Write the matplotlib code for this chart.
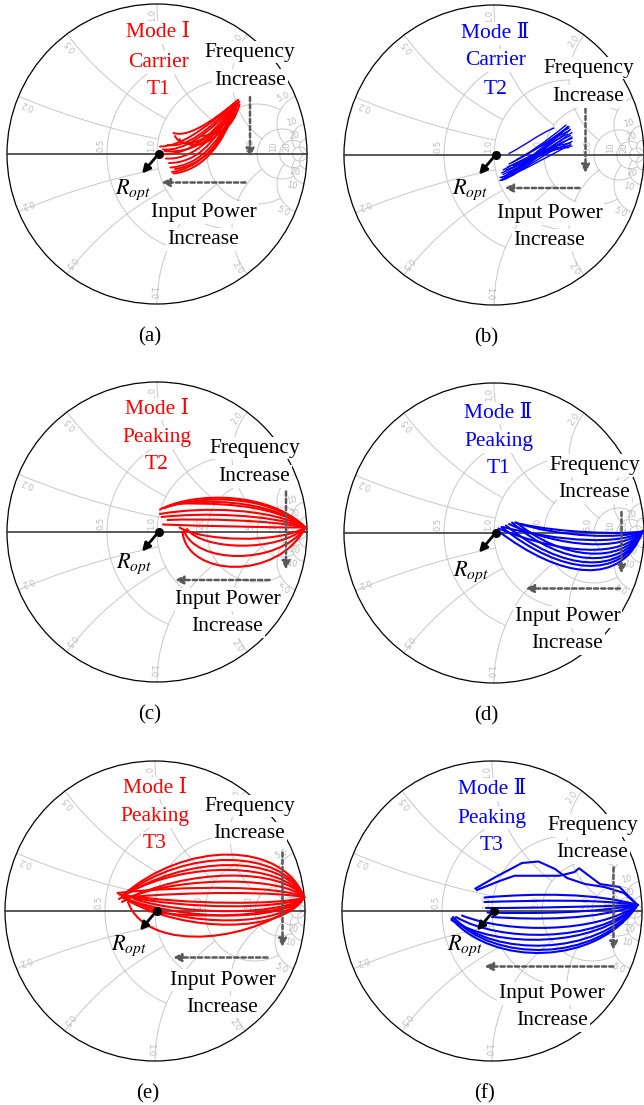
import numpy as np
import matplotlib
matplotlib.use("Agg")
import matplotlib.pyplot as plt
from matplotlib.path import Path
from matplotlib.patches import PathPatch, Circle

plt.rcParams["mathtext.fontset"] = "stix"
SERIF = ["Liberation Serif", "DejaVu Serif", "Noto Sans CJK SC"]

# ---------------- data: load trajectories as reflection coefficients ----------------
# each curve: cubic Bezier control points (start, c1, c2, end)
carrier_t1 = [
    [(0.02, 0.05), (0.15, 0.05), (0.30, 0.15), (0.54, 0.36)],
    [(0.04, 0.03), (0.18, 0.02), (0.33, 0.12), (0.53, 0.34)],
    [(0.03, 0.00), (0.20, -0.01), (0.35, 0.10), (0.52, 0.33)],
    [(0.06, -0.03), (0.22, -0.04), (0.37, 0.08), (0.51, 0.31)],
    [(0.08, -0.06), (0.24, -0.06), (0.38, 0.05), (0.50, 0.30)],
    [(0.09, -0.09), (0.25, -0.08), (0.40, 0.04), (0.50, 0.28)],
    [(0.10, -0.12), (0.25, -0.10), (0.40, 0.02), (0.49, 0.25)],
    [(0.12, -0.10), (0.28, -0.08), (0.42, 0.05), (0.47, 0.20)],
    [(0.11, -0.13), (0.30, -0.11), (0.44, 0.06), (0.52, 0.30)],
    [(0.11, 0.14), (0.20, 0.11), (0.35, 0.20), (0.54, 0.36)],
    [(0.12, 0.12), (0.16, 0.03), (0.35, 0.05), (0.54, 0.34)],
    [(0.15, 0.10), (0.18, 0.03), (0.38, 0.08), (0.53, 0.30)],
    [(0.20, 0.08), (0.22, 0.03), (0.40, 0.06), (0.52, 0.27)],
    [(0.05, 0.02), (0.25, 0.00), (0.42, 0.12), (0.55, 0.35)],
    [(0.07, 0.06), (0.20, 0.04), (0.34, 0.16), (0.51, 0.33)],
    [(0.30, 0.12), (0.40, 0.13), (0.50, 0.15), (0.55, 0.33)],
]
carrier_t2 = [
    [(0.04, -0.17), (0.16, -0.10), (0.34, 0.08), (0.50, 0.19)],
    [(0.05, -0.15), (0.18, -0.09), (0.36, 0.06), (0.51, 0.17)],
    [(0.06, -0.13), (0.20, -0.07), (0.37, 0.05), (0.52, 0.15)],
    [(0.07, -0.11), (0.21, -0.05), (0.38, 0.03), (0.52, 0.12)],
    [(0.08, -0.10), (0.22, -0.04), (0.39, 0.02), (0.52, 0.09)],
    [(0.06, -0.16), (0.20, -0.10), (0.38, 0.00), (0.51, 0.07)],
    [(0.09, -0.08), (0.22, -0.02), (0.38, 0.04), (0.50, 0.05)],
    [(0.10, -0.06), (0.22, 0.00), (0.36, 0.10), (0.48, 0.20)],
    [(0.12, -0.05), (0.24, 0.01), (0.36, 0.09), (0.47, 0.17)],
    [(0.05, -0.12), (0.20, -0.06), (0.35, 0.07), (0.49, 0.14)],
    [(0.10, 0.01), (0.20, 0.06), (0.30, 0.14), (0.40, 0.18)],
    [(0.08, -0.14), (0.22, -0.07), (0.33, 0.02), (0.45, 0.10)],
    [(0.04, -0.15), (0.18, -0.12), (0.30, -0.02), (0.42, 0.05)],
    [(0.15, -0.03), (0.28, 0.03), (0.40, 0.12), (0.50, 0.16)],
    [(0.05, -0.17), (0.20, -0.12), (0.32, 0.04), (0.51, 0.13)],
    [(0.07, -0.16), (0.24, -0.08), (0.35, 0.10), (0.50, 0.18)],
    [(0.09, -0.12), (0.25, -0.06), (0.40, 0.08), (0.52, 0.11)],
    [(0.06, -0.10), (0.19, -0.03), (0.33, 0.05), (0.51, 0.08)],
    [(0.11, -0.09), (0.26, -0.03), (0.41, 0.10), (0.49, 0.19)],
    [(0.13, -0.07), (0.27, -0.01), (0.39, 0.06), (0.52, 0.06)],
]
peaking_t2 = [
    [(0.02, 0.15), (0.25, 0.27), (0.75, 0.27), (0.99, 0.03)],
    [(0.05, 0.16), (0.30, 0.25), (0.75, 0.25), (0.99, 0.03)],
    [(0.10, 0.18), (0.30, 0.22), (0.75, 0.22), (0.99, 0.03)],
    [(0.13, 0.19), (0.35, 0.19), (0.75, 0.20), (0.99, 0.03)],
    [(0.02, 0.12), (0.30, 0.17), (0.75, 0.16), (0.99, 0.03)],
    [(0.03, 0.10), (0.30, 0.13), (0.75, 0.12), (0.99, 0.03)],
    [(0.07, 0.08), (0.30, 0.09), (0.75, 0.08), (0.99, 0.03)],
    [(0.04, 0.05), (0.30, 0.04), (0.75, 0.03), (0.99, 0.03)],
    [(0.15, 0.03), (0.30, -0.06), (0.80, -0.08), (0.99, 0.03)],
    [(0.20, 0.02), (0.30, -0.12), (0.80, -0.14), (0.99, 0.03)],
    [(0.18, 0.01), (0.25, -0.21), (0.80, -0.23), (0.99, 0.03)],
    [(0.17, 0.00), (0.20, -0.30), (0.80, -0.33), (0.99, 0.03)],
]
peaking_t1 = [
    [(0.02, 0.02), (0.45, -0.31), (0.85, -0.36), (0.99, 0.01)],
    [(0.05, 0.04), (0.45, -0.28), (0.85, -0.32), (0.99, 0.01)],
    [(0.08, 0.05), (0.45, -0.25), (0.85, -0.29), (0.99, 0.01)],
    [(0.12, 0.07), (0.45, -0.22), (0.85, -0.25), (0.99, 0.01)],
    [(0.15, 0.07), (0.45, -0.18), (0.85, -0.21), (0.99, 0.01)],
    [(0.03, 0.03), (0.45, -0.14), (0.85, -0.17), (0.99, 0.01)],
    [(0.10, 0.06), (0.45, -0.10), (0.85, -0.12), (0.99, 0.01)],
    [(0.06, 0.04), (0.45, -0.06), (0.85, -0.08), (0.99, 0.01)],
    [(0.14, 0.07), (0.45, -0.03), (0.85, -0.04), (0.99, 0.01)],
    [(0.18, 0.06), (0.45, 0.00), (0.85, -0.01), (0.99, 0.01)],
]
peaking_t3_m1 = [
    [(-0.22, 0.10), (0.20, 0.47), (0.85, 0.47), (0.995, 0.09)],
    [(-0.20, 0.11), (0.20, 0.42), (0.85, 0.42), (0.995, 0.09)],
    [(-0.24, 0.08), (0.20, 0.38), (0.85, 0.38), (0.995, 0.09)],
    [(-0.18, 0.12), (0.20, 0.33), (0.85, 0.33), (0.995, 0.09)],
    [(-0.22, 0.06), (0.20, 0.29), (0.85, 0.29), (0.995, 0.09)],
    [(-0.15, 0.10), (0.20, 0.23), (0.85, 0.23), (0.995, 0.09)],
    [(-0.25, 0.12), (0.20, 0.17), (0.85, 0.17), (0.995, 0.09)],
    [(-0.20, 0.09), (0.20, 0.13), (0.85, 0.13), (0.995, 0.09)],
    [(-0.18, 0.06), (-0.05, -0.30), (0.70, -0.20), (0.995, 0.09)],
    [(-0.20, 0.08), (0.20, -0.15), (0.85, -0.15), (0.995, 0.09)],
    [(-0.16, 0.07), (0.20, -0.11), (0.85, -0.11), (0.995, 0.09)],
    [(-0.22, 0.09), (0.20, -0.07), (0.85, -0.07), (0.995, 0.09)],
    [(-0.14, 0.08), (0.20, -0.03), (0.85, -0.03), (0.995, 0.09)],
    [(-0.20, 0.10), (0.20, 0.01), (0.85, 0.01), (0.995, 0.09)],
    [(-0.24, 0.11), (0.20, 0.04), (0.85, 0.04), (0.995, 0.09)],
    [(-0.05, 0.00), (0.25, -0.05), (0.85, -0.05), (0.995, 0.09)],
]
peaking_t3_m2 = [
    [(-0.05, 0.09), (0.30, 0.12), (0.70, 0.12), (0.97, 0.04)],
    [(-0.05, 0.06), (0.30, 0.07), (0.70, 0.08), (0.97, 0.04)],
    [(-0.04, 0.02), (0.30, 0.02), (0.70, 0.03), (0.97, 0.04)],
    [(-0.03, -0.01), (0.30, -0.02), (0.70, -0.01), (0.97, 0.04)],
    [(0.00, -0.04), (0.30, -0.06), (0.70, -0.06), (0.97, 0.04)],
    [(-0.27, -0.05), (0.00, -0.37), (0.70, -0.37), (0.97, 0.04)],
    [(-0.26, -0.04), (0.00, -0.345), (0.70, -0.345), (0.97, 0.04)],
    [(-0.25, -0.05), (0.00, -0.305), (0.70, -0.305), (0.97, 0.04)],
    [(-0.27, -0.06), (0.02, -0.25), (0.70, -0.25), (0.97, 0.04)],
    [(-0.24, -0.04), (0.05, -0.21), (0.70, -0.21), (0.97, 0.04)],
    [(-0.20, -0.03), (0.10, -0.15), (0.70, -0.15), (0.97, 0.04)],
]
# two jagged traces in (f), plotted as polylines
peaking_t3_m2_jagged = [
    [(-0.11, 0.15), (0.03, 0.23), (0.20, 0.32), (0.31, 0.33), (0.42, 0.28),
     (0.50, 0.22), (0.62, 0.18), (0.75, 0.16), (0.88, 0.12), (0.97, 0.04)],
    [(-0.10, 0.14), (0.05, 0.20), (0.15, 0.235), (0.30, 0.235), (0.45, 0.235),
     (0.55, 0.26), (0.58, 0.285), (0.64, 0.24), (0.72, 0.18), (0.85, 0.16), (0.97, 0.04)],
]

panel_letters = ["(a)", "(b)", "(c)", "(d)", "(e)", "(f)"]
mode_lines = [["Mode Ⅰ", "Carrier", "T1"], ["Mode Ⅱ", "Carrier", "T2"],
              ["Mode Ⅰ", "Peaking", "T2"], ["Mode Ⅱ", "Peaking", "T1"],
              ["Mode Ⅰ", "Peaking", "T3"], ["Mode Ⅱ", "Peaking", "T3"]]
RED, BLUE = "#ff0000", "#0000ff"
panel_colors = [RED, BLUE, RED, BLUE, RED, BLUE]
panel_curves = [carrier_t1, carrier_t2, peaking_t2, peaking_t1, peaking_t3_m1, peaking_t3_m2]
panel_polylines = [[], [], [], [], [], peaking_t3_m2_jagged]
panel_lw = [1.4, 1.0, 1.5, 1.5, 1.5, 1.5]

# Smith chart grid (ADS style)
r_circles = [0.5, 1, 2, 5, 10, 20]
r_limits = [1, 2, 5, 10, 20, None]
x_arcs = [0.2, 0.5, 1, 2, 5, 10, 20]
x_limits = [1, 1, 2, 5, 10, 20, None]
r_labels = ["0.5", "1.0", "2.0", "5.0", "10", "20"]
x_labels = ["0.2", "0.5", "1.0", "2.0", "5.0", "10", "20"]

# ---------------- layout ----------------
W, H = 644, 1105
RPX = 150.0
layout = [
    dict(c=(157, 154), mode=(0.01, [0.81, 0.61, 0.43]), freq=(0.62, [0.68, 0.49]),
         inp=(0.31, [-0.39, -0.57]), farr=(0.62, 0.38, -0.02), iarr=(-0.19, 0.59, 0.03),
         ropt=(-0.16, -0.24)),
    dict(c=(494, 155), mode=(0.01, [0.81, 0.63, 0.44]), freq=(0.63, [0.58, 0.39]),
         inp=(0.37, [-0.39, -0.57]), farr=(0.61, 0.31, -0.12), iarr=(-0.22, 0.57, 0.07),
         ropt=(-0.16, -0.23)),
    dict(c=(157, 532), mode=(0.0, [0.82, 0.63, 0.45]), freq=(0.65, [0.56, 0.37]),
         inp=(0.47, [-0.45, -0.63]), farr=(0.86, 0.27, -0.25), iarr=(-0.32, 0.75, 0.12),
         ropt=(-0.15, -0.21)),
    dict(c=(494, 533), mode=(0.03, [0.80, 0.61, 0.43]), freq=(0.67, [0.45, 0.27]),
         inp=(0.49, [-0.56, -0.74]), farr=(0.85, 0.14, -0.27), iarr=(-0.37, 0.84, 0.21),
         ropt=(-0.15, -0.26)),
    dict(c=(155, 911), mode=(0.0, [0.82, 0.63, 0.45]), freq=(0.63, [0.70, 0.52]),
         inp=(0.45, [-0.46, -0.64]), farr=(0.85, 0.39, -0.24), iarr=(-0.31, 0.75, 0.12),
         ropt=(-0.17, -0.23)),
    dict(c=(492, 911), mode=(0.0, [0.81, 0.62, 0.44]), freq=(0.67, [0.57, 0.39]),
         inp=(0.40, [-0.55, -0.73]), farr=(0.81, 0.29, -0.26), iarr=(-0.37, 0.81, -0.05),
         ropt=(-0.18, -0.23)),
]

fig = plt.figure(figsize=(W / 100, H / 100), dpi=100)
fig.patch.set_facecolor("white")

GRID_C = "#c8c8c8"
LABEL_C = "#bcbcbc"
ARROW_C = "#595959"
FS = 15.5
BOX = dict(boxstyle="square,pad=0.08", fc="white", ec="none")


def make_ax(cx, cy):
    L, T, B = 162, 162, 203
    ax = fig.add_axes([(cx - L) / W, (H - (cy + B)) / H, 2 * L / W, (T + B) / H])
    ax.set_xlim(-L / RPX, L / RPX)
    ax.set_ylim(-B / RPX, T / RPX)
    ax.axis("off")
    return ax


def smith_grid(ax):
    for r, xm in zip(r_circles, r_limits):
        if xm is None:
            ax.add_patch(Circle((r / (1 + r), 0), 1 / (1 + r), fill=False, ec=GRID_C, lw=0.7, zorder=1))
        else:
            t = np.linspace(-xm, xm, 600)
            z = r + 1j * t
            g = (z - 1) / (z + 1)
            ax.plot(g.real, g.imag, color=GRID_C, lw=0.7, zorder=1)
    for x, rm in zip(x_arcs, x_limits):
        if rm is None:
            rr = np.concatenate([np.linspace(0, 60, 800), np.geomspace(60, 1e5, 300)])
        else:
            rr = np.linspace(0, rm, 600)
        for s in (1, -1):
            z = rr + 1j * s * x
            g = (z - 1) / (z + 1)
            ax.plot(g.real, g.imag, color=GRID_C, lw=0.7, zorder=1)
    # labels
    for x, lab in zip(x_arcs, x_labels):
        th = np.pi - 2 * np.arctan(x)
        for s in (1, -1):
            a = s * (th + 0.03)
            ax.text(0.925 * np.cos(a), 0.925 * np.sin(a), lab, rotation=np.degrees(a),
                    rotation_mode="anchor", ha="center", va="center",
                    fontsize=6.0, color=LABEL_C, family="DejaVu Sans", zorder=2)
    for r, lab in zip(r_circles, r_labels):
        gx = (r - 1) / (r + 1)
        ax.text(gx - 0.008, 0.015, lab, rotation=90, rotation_mode="anchor",
                ha="left", va="bottom", fontsize=6.0, color=LABEL_C,
                family="DejaVu Sans", zorder=2)
    ax.add_patch(Circle((0, 0), 1, fill=False, ec="black", lw=0.9, zorder=3))
    ax.plot([-1, 1], [0, 0], color="#3c3c3c", lw=1.2, zorder=3)


def draw_bezier(ax, pts, color, lw):
    codes = [Path.MOVETO] + [Path.CURVE4] * (len(pts) - 1)
    ax.add_patch(PathPatch(Path(pts, codes), fc="none", ec=color, lw=lw,
                           capstyle="round", joinstyle="round", zorder=4))


for i, lay in enumerate(layout):
    ax = make_ax(*lay["c"])
    smith_grid(ax)
    col = panel_colors[i]
    for crv in panel_curves[i]:
        draw_bezier(ax, crv, col, panel_lw[i])
    for pl in panel_polylines[i]:
        xs, ys = zip(*pl)
        ax.plot(xs, ys, color=col, lw=panel_lw[i], solid_joinstyle="round", zorder=4)

    # dashed direction arrows
    fx, fy0, fy1 = lay["farr"]
    ax.annotate("", xy=(fx, fy1), xytext=(fx, fy0),
                arrowprops=dict(arrowstyle="-|>", color=ARROW_C, lw=1.8,
                                linestyle=(0, (1.7, 1.2)), mutation_scale=12,
                                shrinkA=0, shrinkB=0), zorder=6)
    iy, ix0, ix1 = lay["iarr"]
    ax.annotate("", xy=(ix1, iy), xytext=(ix0, iy),
                arrowprops=dict(arrowstyle="-|>", color=ARROW_C, lw=1.8,
                                linestyle=(0, (1.7, 1.2)), mutation_scale=12,
                                shrinkA=0, shrinkB=0), zorder=6)

    # R_opt marker
    ax.annotate("", xy=(-0.10, -0.13), xytext=(0.01, 0.0),
                arrowprops=dict(arrowstyle="-|>", color="black", lw=2.0,
                                mutation_scale=12, shrinkA=0, shrinkB=0), zorder=7)
    ax.plot([0.01], [0.0], "o", color="black", ms=5.5, zorder=8)
    rx, ry = lay["ropt"]
    ax.text(rx, ry, r"$R_{opt}$", fontsize=16, ha="center", va="center", zorder=9)

    # texts
    mx, mys = lay["mode"]
    for s, y in zip(mode_lines[i], mys):
        ax.text(mx, y, s, color=col, fontsize=FS, family=SERIF, ha="center", va="center",
                bbox=BOX, zorder=10)
    fxt, fys = lay["freq"]
    for s, y in zip(["Frequency", "Increase"], fys):
        ax.text(fxt, y, s, color="black", fontsize=FS, family=SERIF, ha="center", va="center",
                bbox=BOX, zorder=10)
    ixt, iys = lay["inp"]
    for s, y in zip(["Input Power", "Increase"], iys):
        ax.text(ixt, y, s, color="black", fontsize=FS, family=SERIF, ha="center", va="center",
                bbox=BOX, zorder=10)
    ax.text(-0.05, -1.22, panel_letters[i], color="black", fontsize=15, family=SERIF,
            ha="center", va="center", zorder=10)

fig.savefig("out.png", dpi=100, facecolor="white")
